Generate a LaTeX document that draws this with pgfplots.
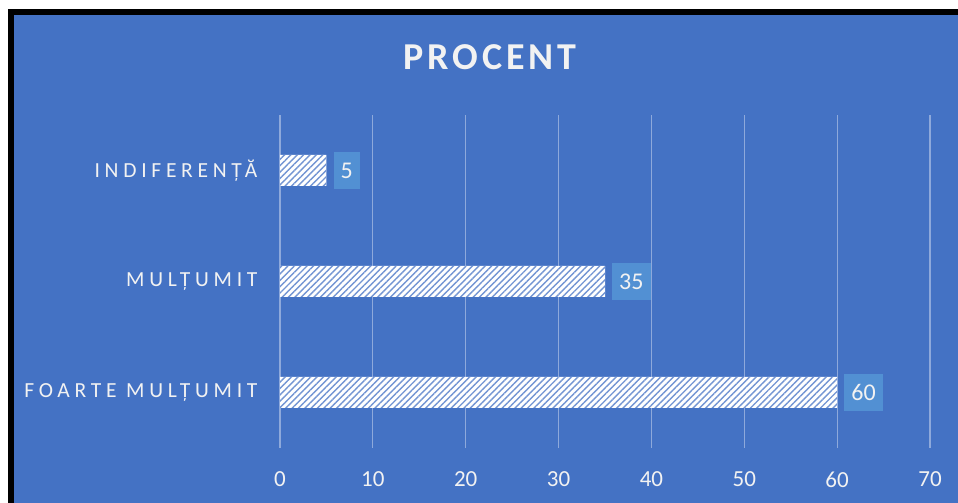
\documentclass[border=0pt]{standalone}
\usepackage{fontspec}
\setmainfont{Carlito}
\newfontfamily\spacedfont{Carlito}[LetterSpace=22]
\newfontfamily\titlefont{Carlito}[LetterSpace=10]
\usepackage{pgfplots}
\pgfplotsset{compat=1.18}
\usetikzlibrary{patterns.meta}
\definecolor{bg}{HTML}{4472C4}
\definecolor{gridc}{HTML}{8EA9DB}
\definecolor{lblbox}{HTML}{5290D3}
\definecolor{txt}{HTML}{F2F2F2}
\begin{document}
\begin{tikzpicture}[x=1pt,y=1pt]
\fill[white] (0,0) rectangle (958,503);
\fill[black] (8,0) rectangle (958,494);
\fill[bg] (14,0) rectangle (958,488);
\node[text=txt, font=\titlefont\bfseries\fontsize{38}{42}\selectfont] at (490,446) {PROCENT};
\begin{axis}[at={(280pt,55pt)}, anchor=south west, width=650pt, height=333pt, scale only axis,
 xbar, bar width=31pt, xmin=0, xmax=70, ymin=-0.5, ymax=2.5,
 axis line style={draw=none},
 ytick={0,1,2}, yticklabels={FOARTE MULȚUMIT, MULȚUMIT, INDIFERENȚĂ},
 xtick={0,10,...,70}, xmajorgrids, grid style={gridc, line width=1.2pt},
 major tick length=0pt,
 tick label style={text=txt},
 xticklabel style={font=\fontsize{23}{27}\selectfont, yshift=-20pt},
 yticklabel style={font=\spacedfont\fontsize{21.5}{25}\selectfont, xshift=-19pt},
 /pgf/number format/assume math mode=true,
 nodes near coords, point meta=x,
 nodes near coords style={anchor=west, fill=lblbox, text=txt, font=\fontsize{24}{28}\selectfont, inner xsep=7pt, minimum height=37pt, xshift=7pt},
]
\addplot[draw=none, fill=white, postaction={pattern={Lines[angle=45,distance=4.5pt,line width=1.4pt]}, pattern color=bg!75!white}] coordinates {(60,0) (35,1) (5,2)};
\end{axis}
\end{tikzpicture}
\end{document}
